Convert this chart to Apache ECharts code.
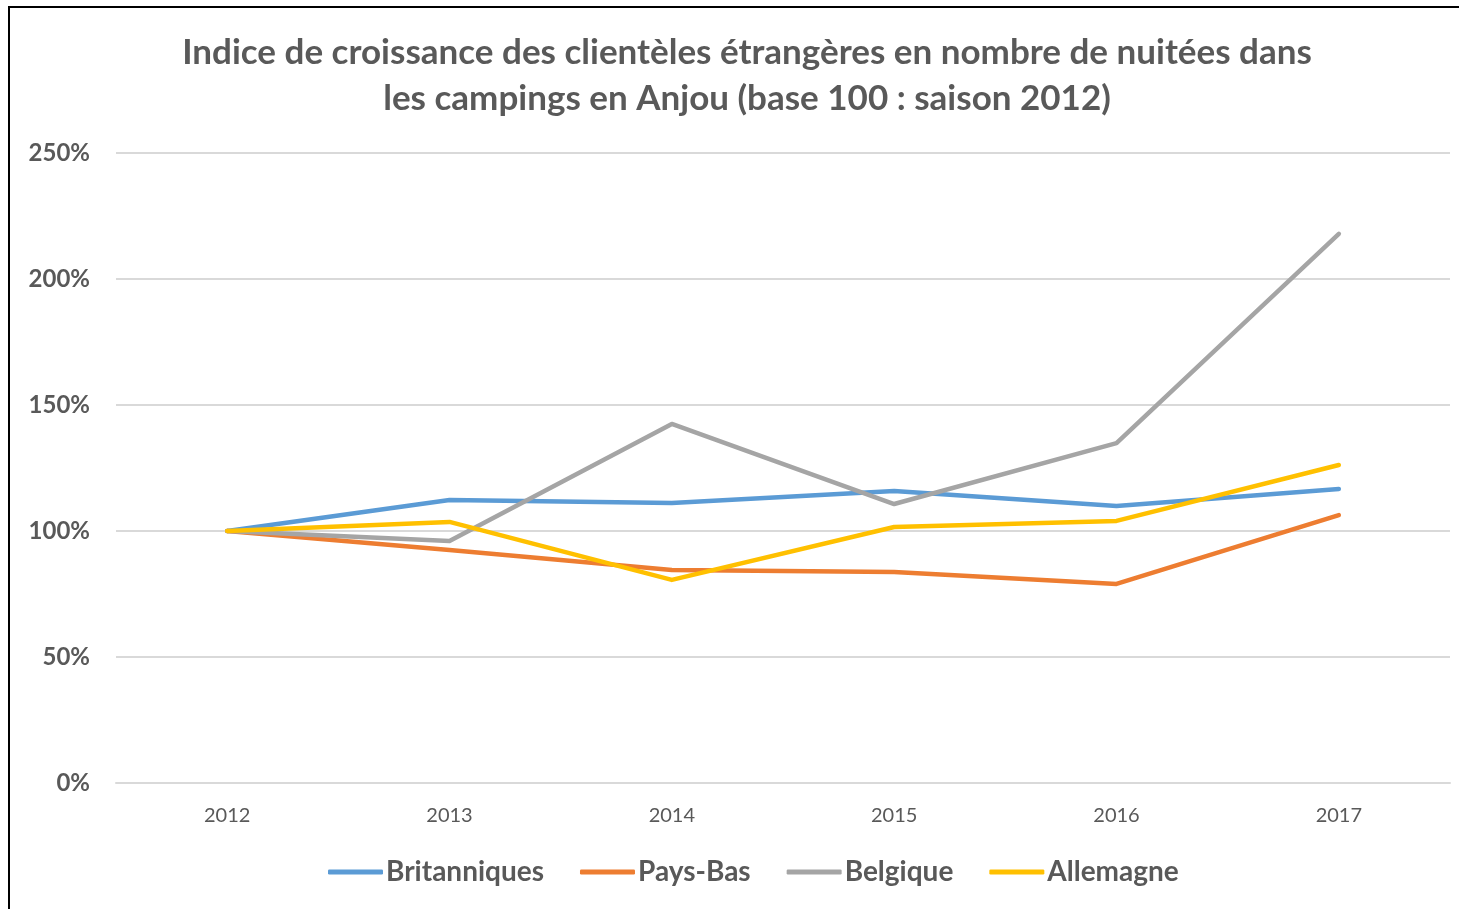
<!DOCTYPE html>
<html>
<head>
<meta charset="utf-8">
<script src="https://cdn.jsdelivr.net/npm/echarts@6/dist/echarts.min.js"></script>
<style>
  html, body { margin: 0; padding: 0; background: #fff; }
  #chart { width: 1459px; height: 909px; }
</style>
</head>
<body>
<div id="chart"></div>
<script>
// données (indice, base 100 = 2012)
const years = ['2012', '2013', '2014', '2015', '2016', '2017']
const britanniques = [100, 112.3, 111.1, 115.9, 109.9, 116.7]
const paysBas = [100, 92.5, 84.5, 83.7, 79.0, 106.3]
const belgique = [100, 96.0, 142.5, 110.7, 134.9, 217.9]
const allemagne = [100, 103.6, 80.6, 101.6, 104.0, 126.2]
const yTicks = [0, 50, 100, 150, 200, 250]

const FONT = 'Lato, "Open Sans", sans-serif'
const GREY = '#595959'

var myChart = echarts.init(document.getElementById('chart'))

function line(name, data, color) {
  return {
    name: name,
    type: 'line',
    data: data,
    showSymbol: false,
    symbol: 'none',
    lineStyle: { color: color, width: 4.5, cap: 'round', join: 'round' },
    itemStyle: { color: color }
  }
}

const option = {
  backgroundColor: '#fff',
  animation: false,
  title: {
    text: 'Indice de croissance des clientèles étrangères en nombre de nuitées dans\nles campings en Anjou (base 100 : saison 2012)',
    left: 742,
    textAlign: 'center',
    top: 25,
    textStyle: {
      fontFamily: FONT,
      fontSize: 35,
      fontWeight: 'bold',
      color: GREY,
      lineHeight: 46
    }
  },
  graphic: [{
    type: 'rect',
    shape: { x: 9, y: 7, width: 1470, height: 920 },
    style: { fill: 'none', stroke: '#000', lineWidth: 2 },
    silent: true
  }],
  grid: { left: 116, right: 9, top: 153, bottom: 126 },
  legend: {
    bottom: 18,
    left: 323,
    icon: 'roundRect',
    itemWidth: 55,
    itemHeight: 5,
    itemGap: 36,
    textStyle: { fontFamily: FONT, fontSize: 28, fontWeight: 'bold', color: GREY, padding: [0, 0, 0, -2] }
  },
  xAxis: {
    type: 'category',
    data: years,
    boundaryGap: true,
    axisLine: { show: true, lineStyle: { color: '#d9d9d9', width: 2 } },
    axisTick: { show: false },
    axisLabel: { fontFamily: FONT, fontSize: 20, color: GREY, margin: 23 }
  },
  yAxis: {
    type: 'value',
    min: 0,
    max: 250,
    interval: 50,
    axisLine: { show: false },
    axisTick: { show: false },
    splitLine: { lineStyle: { color: '#d9d9d9', width: 2 } },
    axisLabel: {
      fontFamily: FONT, fontSize: 24, fontWeight: 'bold', color: GREY, margin: 26,
      formatter: function (v) { return yTicks.indexOf(v) >= 0 ? v + '%' : '' }
    }
  },
  series: [
    line('Britanniques', britanniques, '#5b9bd5'),
    line('Pays-Bas', paysBas, '#ed7d31'),
    line('Belgique', belgique, '#a5a5a5'),
    line('Allemagne', allemagne, '#ffc000')
  ]
}

myChart.setOption(option)
</script>
</body>
</html>
